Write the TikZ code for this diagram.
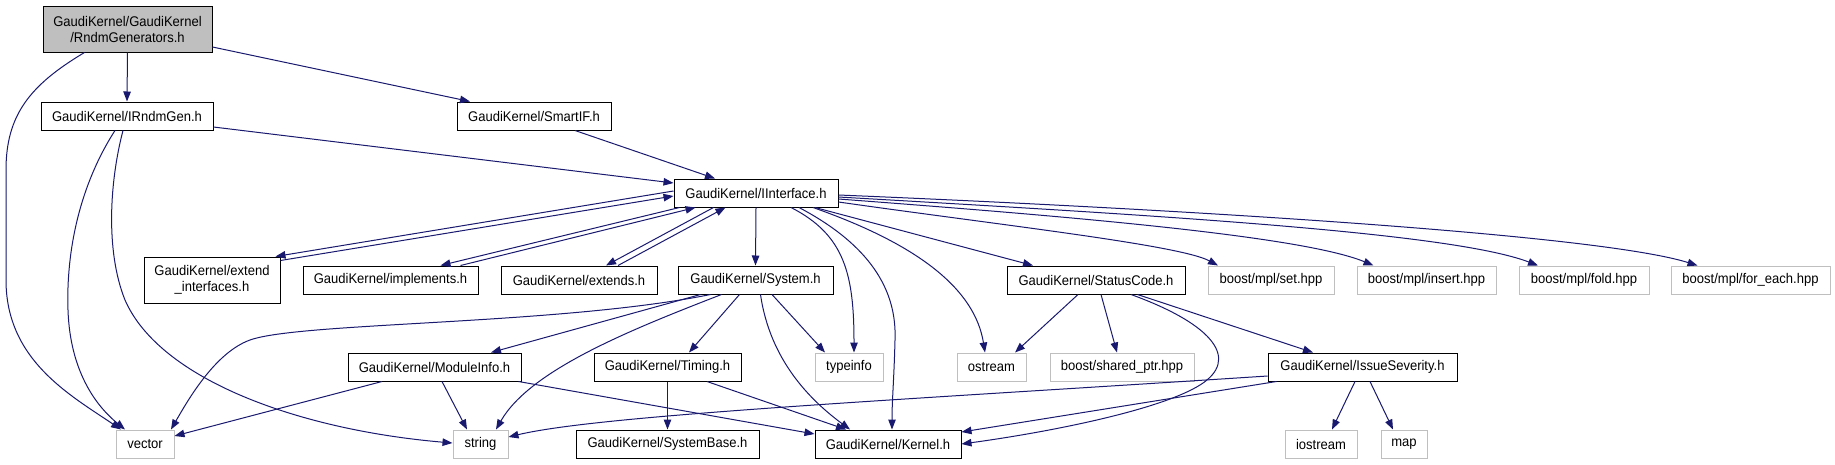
\documentclass[tikz,border=0pt]{standalone}
\usepackage{fontspec}
\setmainfont[FakeStretch=0.93]{Liberation Sans}
\usetikzlibrary{arrows.meta,calc}
\definecolor{edgec}{HTML}{191970}
\definecolor{greyb}{HTML}{BFBFBF}
\begin{document}
\begin{tikzpicture}[x=1pt,y=-1pt,font=\fontsize{14}{16}\selectfont,
  box/.style={draw=black,line width=1pt,inner sep=0pt,minimum height=28pt,align=center,fill=white},
  extbox/.style={box,draw=greyb},
  dep/.style={draw=edgec,line width=1pt,-{Triangle[length=10pt,width=7.5pt]}}]
\useasboundingbox (0,0) rectangle (1835,464);
\fill[white] (0,0) rectangle (1835,464);
% nodes
\node[box,fill=greyb,minimum width=169pt,minimum height=46pt] (rg) at (127.5,29) {GaudiKernel/GaudiKernel\\/RndmGenerators.h};
\node[box,minimum width=172pt] (irg) at (127,116) {GaudiKernel/IRndmGen.h};
\node[box,minimum width=154pt] (sif) at (534,116) {GaudiKernel/SmartIF.h};
\node[box,minimum width=164pt] (ii) at (756,193) {GaudiKernel/IInterface.h};
\node[box,minimum width=136pt,minimum height=46pt] (ei) at (212,280) {GaudiKernel/extend\\\_interfaces.h};
\node[box,minimum width=175pt] (impl) at (390.5,280) {GaudiKernel/implements.h};
\node[box,minimum width=156pt] (ext) at (579,280) {GaudiKernel/extends.h};
\node[box,minimum width=155pt] (sys) at (755.5,280) {GaudiKernel/System.h};
\node[box,minimum width=178pt] (sc) at (1096,280) {GaudiKernel/StatusCode.h};
\node[extbox,minimum width=126pt] (nset) at (1271,280) {boost/mpl/set.hpp};
\node[extbox,minimum width=139pt] (nins) at (1426.5,280) {boost/mpl/insert.hpp};
\node[extbox,minimum width=130pt] (nfold) at (1584,280) {boost/mpl/fold.hpp};
\node[extbox,minimum width=159pt] (nfe) at (1750.5,280) {boost/mpl/for\_each.hpp};
\node[box,minimum width=173pt] (mi) at (434.5,367) {GaudiKernel/ModuleInfo.h};
\node[box,minimum width=147pt] (tim) at (667.5,367) {GaudiKernel/Timing.h};
\node[extbox,minimum width=68pt] (ti) at (849,367) {typeinfo};
\node[extbox,minimum width=69pt] (os) at (991.5,367) {ostream};
\node[extbox,minimum width=144pt] (sp) at (1122,367) {boost/shared\_ptr.hpp};
\node[box,minimum width=189pt] (iss) at (1362.5,367) {GaudiKernel/IssueSeverity.h};
\node[extbox,minimum width=58pt] (vec) at (145,444) {vector};
\node[extbox,minimum width=55pt] (str) at (480.5,444) {string};
\node[box,minimum width=183pt] (sb) at (667.5,444) {GaudiKernel/SystemBase.h};
\node[box,minimum width=146pt] (ker) at (888,444) {GaudiKernel/Kernel.h};
\node[extbox,minimum width=72pt] (ios) at (1321,444) {iostream};
\node[extbox,minimum width=46pt] (nmap) at (1404,444) {map};
% edges from RndmGenerators
\draw[dep] (rg.south) -- (irg.north);
\draw[dep] ($(rg.east)+(0,18)$) -- ($(sif.north)+(-64,0)$);
\draw[dep] ($(rg.south)+(-43,0)$) .. controls (30,85) and (6,115) .. (6,170) -- (6,280) .. controls (6,360) and (70,395) .. ($(vec.north)+(-24,0)$);
% IRndmGen
\draw[dep] ($(irg.east)+(0,11)$) -- ($(ii.west)+(0,-10)$);
\draw[dep] ($(irg.south)+(-12,0)$) .. controls (80,185) and (66,250) .. (68,310) .. controls (70,370) and (95,405) .. ($(vec.north)+(-20,0)$);
\draw[dep] ($(irg.south)+(-4,0)$) .. controls (110,180) and (105,250) .. (125,300) .. controls (160,380) and (300,430) .. ($(str.west)+(0,-1)$);
% SmartIF
\draw[dep] ($(sif.south)+(41,0)$) -- ($(ii.north)+(-41,0)$);
% IInterface and its mutual links
\draw[dep] ($(ii.west)+(0,-2)$) -- ($(ei.north east)+(-5,0)$);
\draw[dep] ($(ei.north east)+(0,4)$) -- ($(ii.west)+(0,3)$);
\draw[dep] ($(ii.south west)+(6,0)$) -- ($(impl.north)+(50,0)$);
\draw[dep] ($(impl.north)+(70,0)$) -- ($(ii.south west)+(22,0)$);
\draw[dep] ($(ii.south west)+(40,0)$) -- ($(ext.north)+(27,0)$);
\draw[dep] ($(ext.north)+(39,0)$) -- ($(ii.south west)+(52,0)$);
\draw[dep] (ii.south) -- (sys.north);
\draw[dep] ($(ii.south)+(35,0)$) .. controls (845,235) and (854,275) .. ($(ti.north)+(5,0)$);
\draw[dep] ($(ii.south)+(43,0)$) .. controls (870,245) and (897,290) .. (895,340) .. controls (894,380) and (892,400) .. ($(ker.north)+(4,0)$);
\draw[dep] ($(ii.south)+(57,0)$) .. controls (920,245) and (975,290) .. ($(os.north)+(-6.5,0)$);
\draw[dep] ($(ii.south)+(59,0)$) -- ($(sc.north)+(-63,0)$);
\draw[dep] ($(ii.east)+(0,9)$) .. controls (1000,225) and (1180,245) .. ($(nset.north)+(-53,0)$);
\draw[dep] ($(ii.east)+(0,6)$) .. controls (1050,215) and (1300,235) .. ($(nins.north)+(-53,0)$);
\draw[dep] ($(ii.east)+(0,4)$) .. controls (1150,215) and (1450,232) .. ($(nfold.north)+(-46,0)$);
\draw[dep] ($(ii.east)+(0,2)$) .. controls (1200,210) and (1600,235) .. ($(nfe.north)+(-53,0)$);
% System
\draw[dep] ($(sys.south)+(-45,0)$) .. controls (560,325) and (300,322) .. (250,340) .. controls (215,352.6) and (188,400) .. ($(vec.north)+(26,0)$);
\draw[dep] ($(sys.south)+(-55,0)$) -- ($(mi.north)+(56.5,0)$);
\draw[dep] ($(sys.south)+(-34,0)$) .. controls (630,330) and (530,370) .. ($(str.north)+(15.5,0)$);
\draw[dep] ($(sys.south)+(-16,0)$) -- ($(tim.north)+(21.5,0)$);
\draw[dep] ($(sys.south)+(5,0)$) .. controls (770,360) and (810,400) .. ($(ker.north)+(-38,0)$);
\draw[dep] ($(sys.south)+(16.5,0)$) -- ($(ti.north)+(-24,0)$);
% ModuleInfo
\draw[dep] ($(mi.south)+(-52.5,0)$) -- ($(vec.east)+(0,-8)$);
\draw[dep] ($(mi.south)+(7.5,0)$) -- ($(str.north)+(-13.5,0)$);
\draw[dep] ($(mi.south east)+(-3,0)$) -- ($(ker.west)+(0,-10)$);
% Timing
\draw[dep] (tim.south) -- (sb.north);
\draw[dep] ($(tim.south)+(39.5,0)$) -- ($(ker.north)+(-42,0)$);
% StatusCode
\draw[dep] ($(sc.south)+(-18,0)$) -- ($(os.north)+(23.5,0)$);
\draw[dep] ($(sc.south)+(5,0)$) -- ($(sp.north)+(-5,0)$);
\draw[dep] ($(sc.south)+(35,0)$) .. controls (1215,325) and (1240,360) .. (1200,385) .. controls (1160,410) and (1050,432) .. (ker.east);
\draw[dep] ($(sc.south)+(41.5,0)$) -- ($(iss.north)+(-49.5,0)$);
% IssueSeverity
\draw[dep] ($(iss.west)+(0,9)$) .. controls (900,400) and (600,415) .. ($(str.east)+(0,-7)$);
\draw[dep] ($(iss.south west)+(9,0)$) -- ($(ker.east)+(0,-12)$);
\draw[dep] ($(iss.south)+(-7.5,0)$) -- ($(ios.north)+(11,0)$);
\draw[dep] ($(iss.south)+(7.5,0)$) -- ($(nmap.north)+(-11,0)$);
\end{tikzpicture}
\end{document}
